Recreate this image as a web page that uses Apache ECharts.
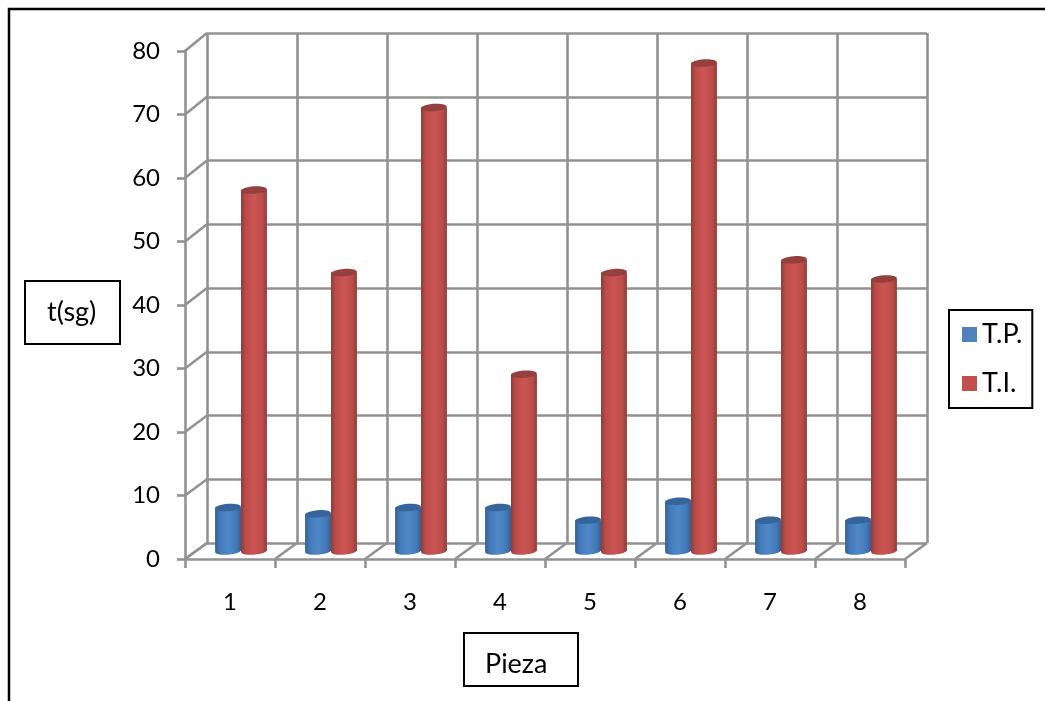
<!DOCTYPE html>
<html>
<head>
<meta charset="utf-8">
<style>html,body{margin:0;padding:0;background:#fff;overflow:hidden}#c{width:1045px;height:701px}</style>
<script src="https://cdn.jsdelivr.net/npm/echarts@6/dist/echarts.min.js"></script>
</head>
<body>
<div id="c"></div>
<script>
// Processing time per part, two series, shown as a pseudo-3D cylinder chart.
const piezas = ['1', '2', '3', '4', '5', '6', '7', '8'];
const tiempoTP = [7, 6, 7, 7, 5, 8, 5, 5];
const tiempoTI = [57, 44, 70, 28, 44, 77, 46, 43];
const marcasEje = [0, 10, 20, 30, 40, 50, 60, 70, 80];

const FONT = 'Lato, "Open Sans", sans-serif';
const GRID_COLOR = '#929292';
const LINE_W = 2.6;
const FRONT = { left: 185, top: 51, width: 720, height: 508 };
const BACK = { left: 207, top: 33, width: 720, height: 510 };
const MID_X = 11, MID_Y = -7;           // cylinders stand in the middle of the floor

function shade(dark, mid, light) {
  return {
    type: 'linear', x: 0, y: 0, x2: 1, y2: 0,
    colorStops: [
      { offset: 0, color: dark },
      { offset: 0.18, color: mid },
      { offset: 0.5, color: light },
      { offset: 0.82, color: mid },
      { offset: 1, color: dark }
    ]
  };
}

// One cylinder per data item; side by side inside the category band.
function cylinder(side, body, cap) {
  return function (params, api) {
    const base = api.coord([api.value(0), 0]);
    const top = api.coord([api.value(0), api.value(1)]);
    const w = api.size([1, 0])[0] * 0.288;
    const cx = base[0] + MID_X + side * w / 2;
    const yTop = top[1] + MID_Y, yBase = base[1] + MID_Y;
    const tilt = 0.07;
    return {
      type: 'group',
      children: [
        { type: 'ellipse', shape: { cx: 0, cy: 0, rx: w / 2, ry: 3.7 }, x: cx, y: yBase - 1, rotation: tilt, style: { fill: body } },
        { type: 'rect', shape: { x: cx - w / 2, y: yTop, width: w, height: yBase - yTop - 1 }, style: { fill: body } },
        { type: 'ellipse', shape: { cx: 0, cy: 0, rx: w / 2, ry: 3.7 }, x: cx, y: yTop, rotation: tilt, style: { fill: cap } }
      ]
    };
  };
}

// Slanted edges joining the front axes to the back wall.
function wallEdges(params, api) {
  const kind = api.value(0), v = api.value(1);
  let x1, y1, x2, y2;
  if (kind === 0) {
    x1 = FRONT.left;
    y1 = api.coord([0, v])[1];
    x2 = BACK.left;
    y2 = BACK.top + BACK.height * (1 - v / 80);
  } else {
    x1 = FRONT.left + v * FRONT.width / piezas.length;
    y1 = FRONT.top + FRONT.height;
    x2 = BACK.left + v * BACK.width / piezas.length;
    y2 = BACK.top + BACK.height;
  }
  return {
    type: 'line',
    shape: { x1, y1, x2, y2 },
    style: { stroke: GRID_COLOR, lineWidth: LINE_W }
  };
}

const edgeData = marcasEje.map(v => [0, v]).concat(
  piezas.map((_, i) => [1, i]), [[1, piezas.length]]
);

function boxTitle(text, left, top, padding) {
  return {
    text, left, top, padding,
    borderColor: '#000', borderWidth: 2,
    textStyle: { color: '#000', fontSize: 27, fontWeight: 'normal', fontFamily: FONT }
  };
}

const chart = echarts.init(document.getElementById('c'), null, { renderer: 'canvas' });
chart.setOption({
  animation: false,
  backgroundColor: '#fff',
  textStyle: { fontFamily: FONT },
  title: [
    boxTitle('t(sg)', 25, 281, [18, 24, 18, 22]),
    boxTitle('Pieza', 464, 633, [18, 31, 8, 21])
  ],
  grid: [FRONT, BACK],
  xAxis: [
    {
      type: 'category', data: piezas, gridIndex: 0,
      axisLine: { lineStyle: { color: GRID_COLOR, width: LINE_W } },
      axisTick: { show: true, length: 9, lineStyle: { color: GRID_COLOR, width: LINE_W } },
      axisLabel: { color: '#000', fontSize: 24, margin: 31, fontFamily: FONT }
    },
    {
      type: 'category', data: piezas, gridIndex: 1,
      axisLine: { show: false }, axisTick: { show: false }, axisLabel: { show: false },
      splitLine: { show: true, lineStyle: { color: GRID_COLOR, width: LINE_W } }
    }
  ],
  yAxis: [
    {
      type: 'value', min: 0, max: 80, interval: 10, gridIndex: 0,
      axisLine: { show: true, lineStyle: { color: GRID_COLOR, width: LINE_W } },
      axisTick: { show: true, length: 8, lineStyle: { color: GRID_COLOR, width: LINE_W } },
      axisLabel: { color: '#000', fontSize: 24, margin: 25, fontFamily: FONT },
      splitLine: { show: false }
    },
    {
      type: 'value', min: 0, max: 80, interval: 10, gridIndex: 1,
      axisLine: { show: false }, axisTick: { show: false }, axisLabel: { show: false },
      splitLine: { show: true, lineStyle: { color: GRID_COLOR, width: LINE_W } }
    }
  ],
  legend: {
    data: ['T.P.', 'T.I.'], orient: 'vertical', left: 949, top: 310,
    itemWidth: 15, itemHeight: 15, itemGap: 22, icon: 'rect',
    padding: [11, 10, 11, 13],
    borderColor: '#000', borderWidth: 2, backgroundColor: '#fff',
    textStyle: { color: '#000', fontSize: 27, fontFamily: FONT },
    selectedMode: false
  },
  graphic: [{
    type: 'rect', z: -1, silent: true,
    shape: { x: 9, y: 9, width: 1200, height: 900 },
    style: { fill: 'none', stroke: '#000', lineWidth: 2.5 }
  }],
  series: [
    {
      name: 'bordes', type: 'custom', renderItem: wallEdges, data: edgeData,
      xAxisIndex: 0, yAxisIndex: 0, z: 1, silent: true, encode: { x: -1, y: -1 }
    },
    {
      name: 'T.P.', type: 'custom', xAxisIndex: 0, yAxisIndex: 0, z: 3,
      itemStyle: { color: '#4f81bd' },
      renderItem: cylinder(-1, shade('#355f92', '#4379b8', '#4f87c8'), '#36659c'),
      data: tiempoTP.map((v, i) => [i, v]), encode: { x: 0, y: 1 }
    },
    {
      name: 'T.I.', type: 'custom', xAxisIndex: 0, yAxisIndex: 0, z: 4,
      itemStyle: { color: '#c0504d' },
      renderItem: cylinder(1, shade('#8f3c3a', '#bb4c49', '#cc5552'), '#93403e'),
      data: tiempoTI.map((v, i) => [i, v]), encode: { x: 0, y: 1 }
    }
  ]
});
</script>
</body>
</html>
